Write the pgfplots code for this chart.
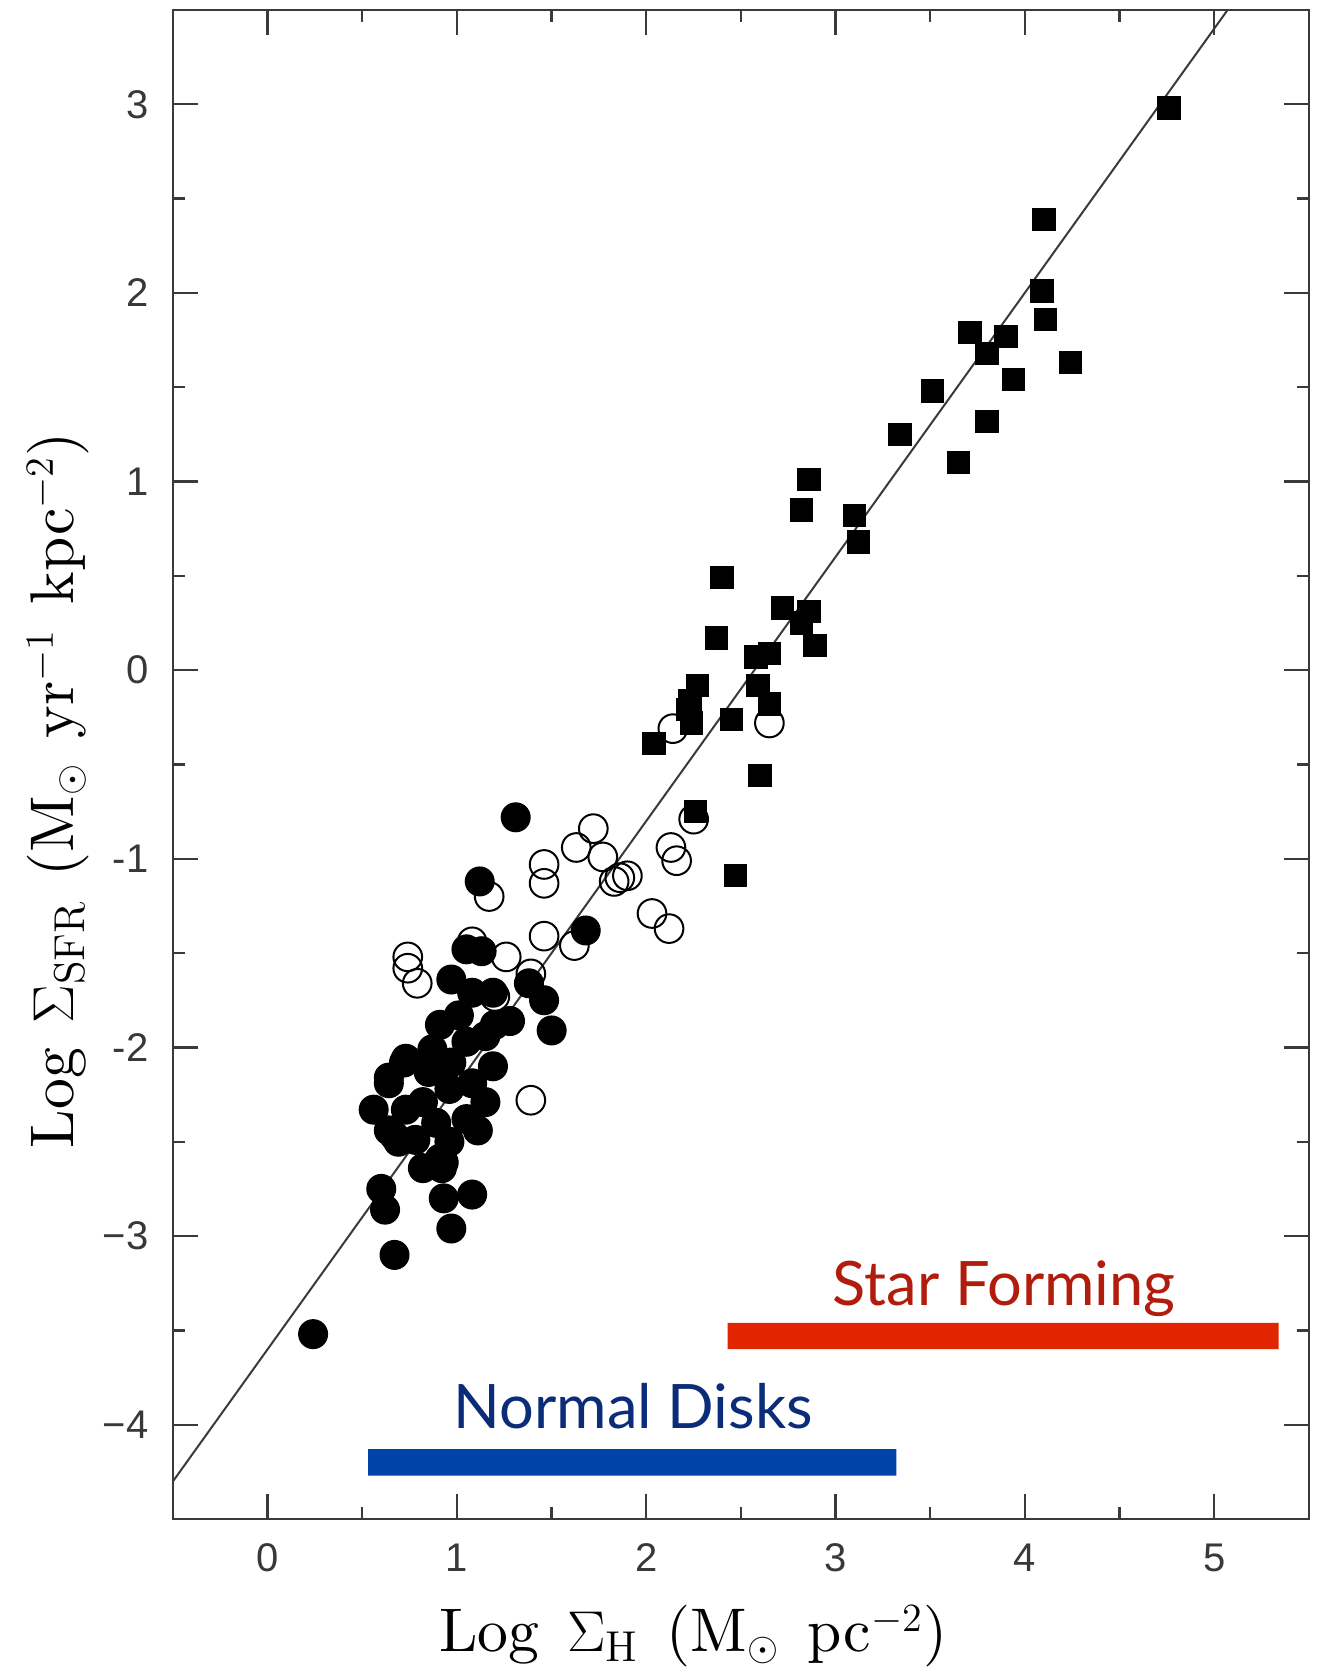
\documentclass[border=0pt]{standalone}
\usepackage{fontspec}
\usepackage{pgfplots}
\pgfplotsset{compat=1.18}
\newfontfamily\tickfont{Liberation Sans}
\newfontfamily\gillfont{Lato}
\newfontfamily\lmten{lmroman10-regular.otf}
\definecolor{sfred}{HTML}{E02500}
\definecolor{sftext}{HTML}{B21C0C}
\definecolor{ndblue}{HTML}{0043A8}
\definecolor{ndtext}{HTML}{0B2C78}
\definecolor{axgray}{HTML}{3A3A3A}
\begin{document}
\begin{tikzpicture}
\begin{axis}[
  scale only axis, width=340.8pt, height=452.7pt,
  xmin=-0.5, xmax=5.5, ymin=-4.5, ymax=3.5,
  xtick={0,1,2,3,4,5}, ytick={-4,-3,-2,-1,0,1,2,3},
  xticklabels={0,1,2,3,4,5},
  yticklabels={−4,−3,-2,-1,0,1,2,3},
  minor tick num=1,
  tick align=inside,
  major tick length=7.5pt, minor tick length=3.7pt,
  axis line style={axgray, line width=0.7pt},
  every tick/.style={axgray, line width=0.7pt},
  tick label style={font=\tickfont\fontsize{12}{14}\selectfont, text=black!78},
  xticklabel style={inner sep=0pt, anchor=north, yshift=-7.2pt},
  yticklabel style={inner sep=0pt, anchor=east, xshift=-7.2pt},
  xlabel={Log\hspace{0.45em}$\Sigma_{\mathrm{H}}$\hspace{0.45em}(M$_\odot$\hspace{0.45em}pc$^{-2}$)},
  ylabel={Log\hspace{0.4em}$\Sigma_{\mathrm{SFR}}$\hspace{0.4em}(M$_\odot$\hspace{0.4em}yr$^{-1}$\hspace{0.4em}kpc$^{-2}$)},
  label style={font=\lmten\fontsize{18.5}{21}\selectfont},
  xlabel style={at={(axis description cs:0.458,-0.0881)}, anchor=base},
  ylabel style={at={(axis description cs:-0.101,0.483)}, anchor=center},
  clip=true,
]
% fit line
\addplot[axgray, line width=0.6pt] coordinates {(-0.5,-4.30) (5.07,3.5)};
% bars
\addplot[fill=sfred, draw=none] coordinates {(2.43,-3.46) (5.34,-3.46) (5.34,-3.60) (2.43,-3.60) (2.43,-3.46)};
\addplot[fill=ndblue, draw=none] coordinates {(0.53,-4.13) (3.32,-4.13) (3.32,-4.27) (0.53,-4.27) (0.53,-4.13)};
% open circles
\addplot[only marks, mark=o, mark size=4.3pt, mark options={line width=0.6pt, black}] coordinates {
(1.72,-0.84) (1.63,-0.94) (1.77,-0.99) (1.46,-1.03) (1.46,-1.13)
(1.83,-1.12) (1.86,-1.10) (1.90,-1.09) (2.13,-0.94) (2.16,-1.01)
(2.25,-0.79) (2.03,-1.29) (2.12,-1.37) (1.17,-1.20) (1.46,-1.41)
(1.62,-1.46) (1.26,-1.52) (0.74,-1.52) (0.74,-1.58) (0.79,-1.66)
(1.08,-1.44) (1.39,-1.61) (1.20,-1.73) (1.39,-2.28) (2.65,-0.28)
(2.14,-0.31)
};
% filled circles
\addplot[only marks, mark=*, mark size=4.3pt, black] coordinates {
(0.24,-3.52) (1.31,-0.78) (1.12,-1.12) (1.68,-1.38) (1.50,-1.91)
(0.67,-3.10) (0.60,-2.75) (0.62,-2.86) (0.97,-2.96) (0.93,-2.80)
(1.08,-2.78) (0.56,-2.33) (0.64,-2.19) (0.72,-2.08) (0.67,-2.47)
(0.93,-2.61) (1.05,-1.48) (1.13,-1.49) (0.97,-1.64) (1.19,-1.71)
(1.08,-1.71) (1.38,-1.66) (1.46,-1.75) (1.28,-1.86) (1.20,-1.88)
(0.91,-1.88) (1.01,-1.83) (1.05,-1.97) (1.15,-1.94) (1.19,-2.10)
(0.97,-2.08) (0.87,-2.01) (0.73,-2.06) (0.85,-2.13) (0.64,-2.16)
(0.96,-2.22) (1.08,-2.19) (1.15,-2.29) (0.82,-2.29) (0.73,-2.33)
(1.05,-2.38) (0.89,-2.40) (0.64,-2.44) (1.11,-2.44) (0.78,-2.49)
(0.96,-2.50) (0.69,-2.50) (0.91,-2.59) (0.82,-2.64) (0.92,-2.64)
};
% filled squares
\addplot[only marks, mark=square*, mark size=3.3pt, black] coordinates {
(4.76,2.98) (4.10,2.39) (4.09,2.01) (4.11,1.86) (3.71,1.79)
(3.90,1.77) (3.80,1.68) (4.24,1.63) (3.94,1.54) (3.51,1.48)
(3.80,1.32) (3.34,1.25) (3.65,1.10) (2.86,1.01) (2.82,0.85)
(3.10,0.82) (3.12,0.68) (2.40,0.49) (2.37,0.17) (2.72,0.33)
(2.86,0.31) (2.82,0.25) (2.89,0.13) (2.58,0.07) (2.65,0.09)
(2.59,-0.08) (2.65,-0.18) (2.27,-0.08) (2.23,-0.16) (2.24,-0.28)
(2.45,-0.26) (2.04,-0.39) (2.60,-0.56) (2.26,-0.75) (2.47,-1.09)
(2.22,-0.21)
};
\node[anchor=base, text=sftext, font=\gillfont\fontsize{18.4}{20}\selectfont] at (axis cs:3.89,-3.37) {Star Forming};
\node[anchor=base, text=ndtext, font=\gillfont\fontsize{18.4}{20}\selectfont] at (axis cs:1.93,-4.02) {Normal Disks};
\end{axis}
\pgfresetboundingbox
\path[use as bounding box] ([shift={(-51.9pt,-44.7pt)}]current axis.south west) rectangle ([shift={(4.2pt,3.0pt)}]current axis.north east);
\end{tikzpicture}
\end{document}
